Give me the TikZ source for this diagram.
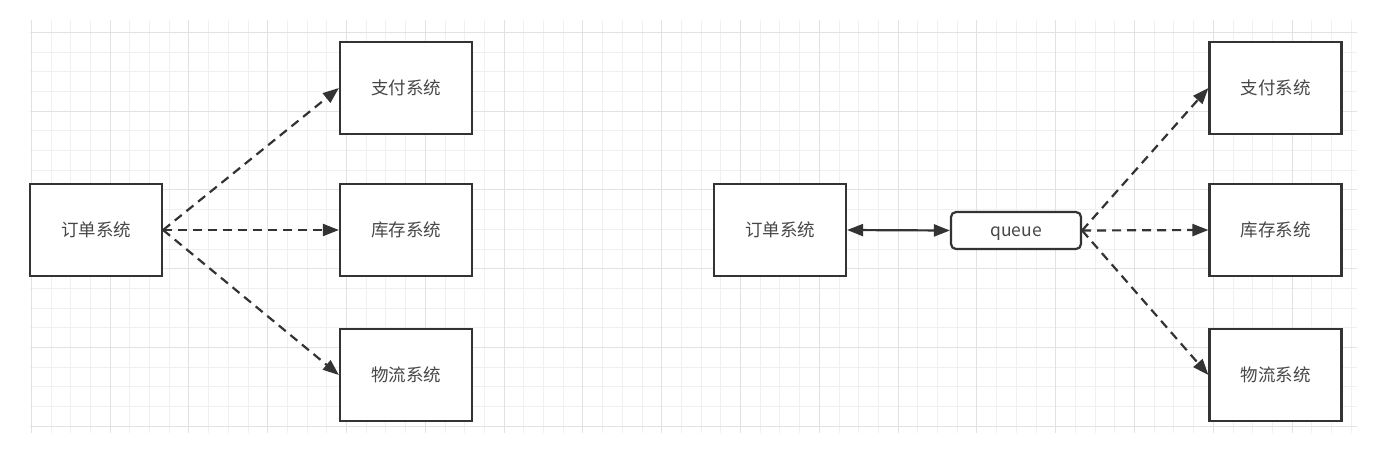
\documentclass[tikz,border=0pt]{standalone}
\usepackage{fontspec}
\setmainfont{Noto Sans CJK SC}
\usepackage{tikz}
\usetikzlibrary{arrows.meta}
\definecolor{ink}{HTML}{333333}
\definecolor{gridminor}{HTML}{F0F0F0}
\definecolor{gridmajor}{HTML}{E2E2E2}
\tikzset{sysbox/.style={rectangle, draw=ink, line width=2.2pt, fill=white, minimum width=132pt, minimum height=92pt, text=ink!90, text height=15pt, text depth=2pt, font=\fontsize{17.5}{21}\selectfont},
	queuebox/.style={rectangle, rounded corners=5pt, draw=ink, line width=2.2pt, fill=white, minimum width=130pt, minimum height=37pt, text=ink!90, text height=16pt, text depth=4pt, font=\fontsize{17.5}{21}\selectfont},
	msg/.style={draw=ink, line width=2.2pt, dash pattern=on 9pt off 6pt}}

\begin{document}
\begin{tikzpicture}[x=1pt,y=-1pt,>={Triangle[length=16pt,width=12pt]}]
	\useasboundingbox [fill=white] (0,0) rectangle (1373,456);
	% background grid
	\foreach \k [evaluate=\k as \gx using 31.3+19.7*\k] in {0,...,67}
		\draw [gridminor, line width=1pt] (\gx,20) -- (\gx,433);
	\foreach \k [evaluate=\k as \gy using 32.3+19.7*\k] in {0,...,20}
		\draw [gridminor, line width=1pt] (30,\gy) -- (1357,\gy);
	\foreach \k [evaluate=\k as \gx using 31.3+19.7*\k] in {0,4,...,64}
		\draw [gridmajor, line width=1pt] (\gx,20) -- (\gx,433);
	\foreach \k [evaluate=\k as \gy using 32.3+19.7*\k] in {0,4,...,20}
		\draw [gridmajor, line width=1pt] (30,\gy) -- (1357,\gy);
	% direct calls
	\node [sysbox] (order) at (96,230) {订单系统};
	\node [sysbox] (pay) at (406,88) {支付系统};
	\node [sysbox] (stock) at (406,230) {库存系统};
	\node [sysbox] (ship) at (406,375) {物流系统};
	\draw [msg,->] (order.east) -- (pay.west);
	\draw [msg,->] (order.east) -- (stock.west);
	\draw [msg,->] (order.east) -- (ship.west);
	% through the queue
	\node [sysbox] (qorder) at (780,230) {订单系统};
	\node [queuebox] (queue) at (1016,230.5) {queue};
	\node [sysbox] (qpay) at (1275.5,88) {支付系统};
	\node [sysbox] (qstock) at (1275.5,230) {库存系统};
	\node [sysbox] (qship) at (1275.5,375) {物流系统};
	\draw [ink, line width=2.2pt, <->] (qorder.east) -- (queue.west);
	\draw [msg,->] (queue.east) -- (qpay.west);
	\draw [msg,->] (queue.east) -- (qstock.west);
	\draw [msg,->] (queue.east) -- (qship.west);
\end{tikzpicture}
\end{document}
